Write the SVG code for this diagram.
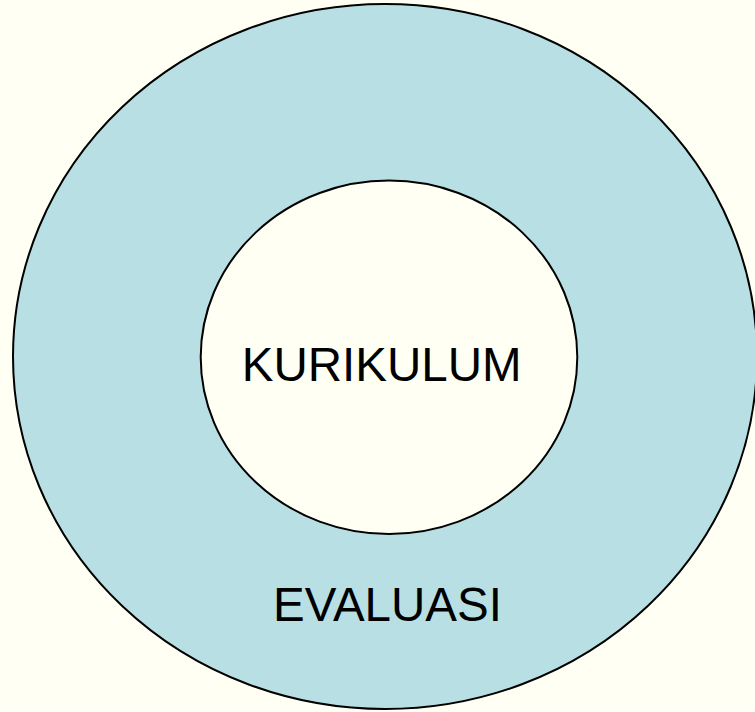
<svg xmlns="http://www.w3.org/2000/svg" width="755" height="712" viewBox="0 0 755 712">
<style>
.ring{stroke:#000;stroke-width:2}
.lbl{font-family:"Liberation Sans",Arial,sans-serif;font-size:47.5px;fill:#000;text-anchor:middle}
</style>
<rect width="755" height="712" fill="#FFFFF4"/>
<g id="evaluasi">
<ellipse class="ring" cx="385" cy="356.5" rx="372" ry="352.5" fill="#B8DFE3"/>
<text class="lbl" x="387.5" y="621">EVALUASI</text>
</g>
<g id="kurikulum">
<ellipse class="ring" cx="389" cy="357.3" rx="188.3" ry="176.7" fill="#FFFFF4"/>
<text class="lbl" x="381.7" y="380.7">KURIKULUM</text>
</g>
<g id="connectors"/>
</svg>
